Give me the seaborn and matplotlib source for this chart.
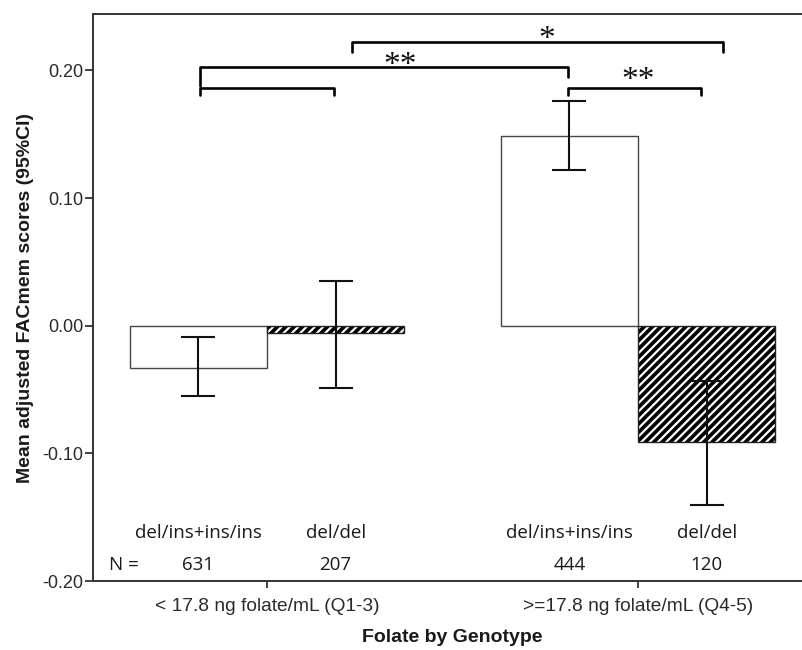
import matplotlib
matplotlib.use("Agg")
import matplotlib.pyplot as plt
from matplotlib.patches import Rectangle
import pandas as pd
import seaborn as sns

sns.set_style("ticks")
plt.rcParams["font.family"] = ["Liberation Sans", "DejaVu Sans"]
plt.rcParams["hatch.linewidth"] = 1.6

# ---- data ----
folate = ["< 17.8 ng folate/mL (Q1-3)", "< 17.8 ng folate/mL (Q1-3)",
          ">=17.8 ng folate/mL (Q4-5)", ">=17.8 ng folate/mL (Q4-5)"]
genotype = ["del/ins+ins/ins", "del/del", "del/ins+ins/ins", "del/del"]
means = [-0.033, -0.006, 0.149, -0.091]
ci_low = [-0.055, -0.049, 0.122, -0.140]
ci_high = [-0.009, 0.035, 0.176, -0.043]
n_obs = [631, 207, 444, 120]

# significance brackets: (x_start, x_end, y, left leg, right leg, label, label_x, label_y)
brackets = [
    (-0.18, 0.18, 0.186, 0.181, 0.181, "", 0, 0),
    (-0.18, 0.81, 0.2026, 0.188, 0.195, "**", 0.36, 0.204),
    (0.23, 1.23, 0.222, 0.2145, 0.2145, "*", 0.755, 0.224),
    (0.81, 1.17, 0.186, 0.181, 0.181, "**", 1.0, 0.192),
]

df = pd.DataFrame({"folate": folate, "genotype": genotype, "mean": means})

fig = plt.figure(figsize=(8.02, 6.5), dpi=100)
ax = fig.add_axes([0.116, 0.106, 0.8965, 0.872])

sns.barplot(data=df, x="folate", y="mean", hue="genotype",
            hue_order=["del/ins+ins/ins", "del/del"],
            palette=["white", "black"], width=0.74, errorbar=None,
            legend=False, ax=ax, zorder=2)

bars = [p for p in ax.patches if isinstance(p, Rectangle)]
# seaborn orders patches by hue level; map them to the rows of df
order = [0, 2, 1, 3]
xs = [0.0] * 4
for p, i in zip(bars, order):
    xs[i] = p.get_x() + p.get_width() / 2
    if genotype[i] == "del/del":
        p.set_facecolor("black")
        p.set_edgecolor("white")
        p.set_hatch("////")
        p.set_linewidth(0)
        ax.add_patch(Rectangle((p.get_x(), p.get_y()), p.get_width(), p.get_height(),
                               fill=False, edgecolor="#222222", linewidth=1.0, zorder=3))
    else:
        p.set_edgecolor("#444444")
        p.set_linewidth(1.0)

# error bars (95% CI)
for x, m, lo, hi in zip(xs, means, ci_low, ci_high):
    ax.errorbar(x, m, yerr=[[m - lo], [hi - m]], fmt="none", ecolor="#111111",
                elinewidth=1.5, capsize=12, capthick=1.5, zorder=4)

# significance brackets
for x0, x1, y, l0, l1, lab, lx, ly in brackets:
    ax.plot([x0, x0, x1, x1], [l0, y, y, l1], color="black", lw=1.9,
            solid_joinstyle="round", zorder=5)
    if lab:
        ax.text(lx, ly, lab, ha="center", va="center", fontsize=24,
                family="Liberation Serif", color="#111111")

# genotype names and group sizes inside the plot
for x, g, n in zip(xs, genotype, n_obs):
    ax.text(x, -0.162, g, ha="center", va="center", fontsize=13.5,
            family="Open Sans", color="#1a1a1a")
    ax.text(x, -0.187, str(n), ha="center", va="center", fontsize=13.5,
            family="Open Sans", color="#1a1a1a")
ax.text(-0.385, -0.187, "N =", ha="center", va="center", fontsize=13.5,
        family="Open Sans", color="#1a1a1a")

ax.set_ylim(-0.2, 0.244)
ax.set_xlim(-0.469, 1.469)
ax.set_yticks([-0.2, -0.1, 0.0, 0.1, 0.2])
ax.set_yticklabels(["-0.20", "-0.10", "0.00", "0.10", "0.20"])
ax.tick_params(axis="y", labelsize=13, length=6, width=1.3, color="#333333",
               labelcolor="#2a2a2a", pad=1)
ax.tick_params(axis="x", labelsize=13.8, length=5, width=1.3, color="#333333",
               labelcolor="#2a2a2a", pad=7)
for s in ax.spines.values():
    s.set_linewidth(1.4)
    s.set_color("#333333")

ax.set_xlabel("Folate by Genotype", fontsize=14, fontweight="bold",
              color="#1a1a1a", labelpad=10)
ax.set_ylabel("Mean adjusted FACmem scores (95%CI)", fontsize=14,
              fontweight="bold", color="#1a1a1a", labelpad=6)

fig.savefig("out.png", dpi=100)
